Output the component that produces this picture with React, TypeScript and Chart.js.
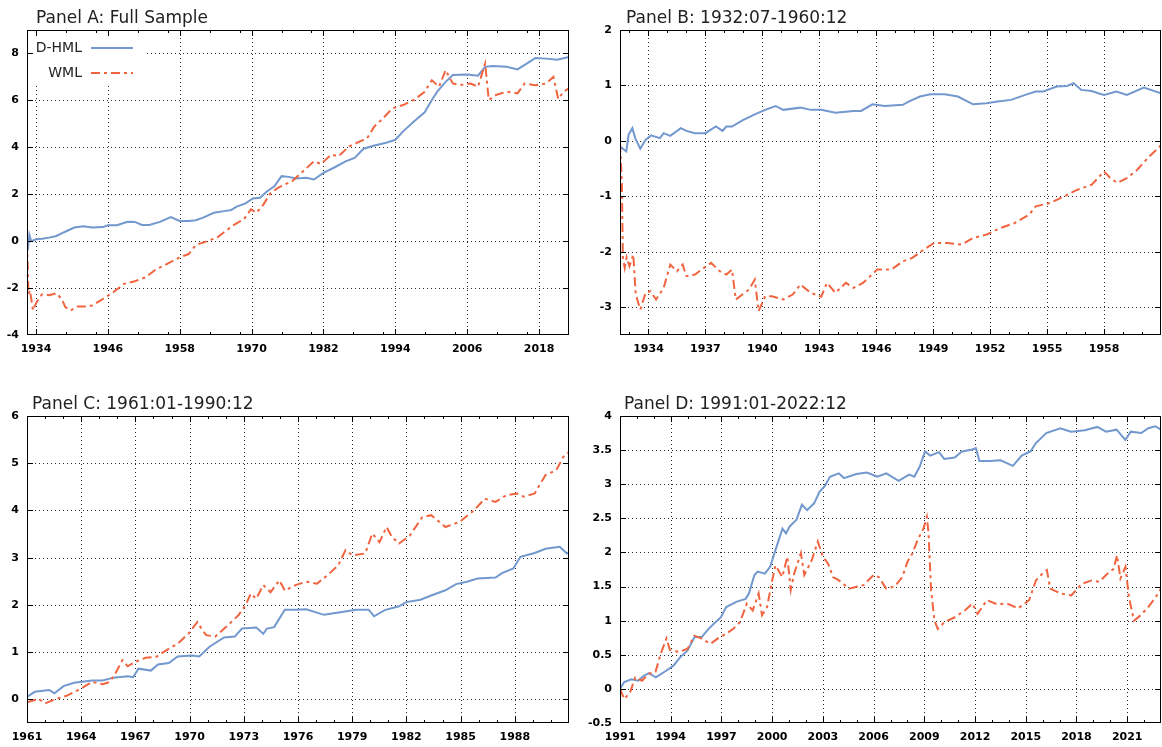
import React, { useEffect, useRef } from "react";
import { Chart, registerables } from "chart.js";

Chart.register(...registerables);

// ---------------- Panel A: Full Sample ----------------
const aHmlYears = [1932.5, 1932.7, 1932.9, 1933.2, 1934, 1935, 1936.2, 1937.4, 1938.6, 1940.4, 1941.9, 1943.4, 1945.2, 1946, 1947.5, 1949.3, 1950.5, 1951.7, 1952.9, 1954.7, 1956.5, 1958, 1959.5, 1960.7, 1961.9, 1963.7, 1965.4, 1966.6, 1967.5, 1969, 1970.2, 1971.4, 1972.6, 1973.8, 1975, 1976.2, 1977.4, 1979.2, 1980.4, 1982, 1983.9, 1985.7, 1987.2, 1988.7, 1990.5, 1992.3, 1994, 1995.3, 1997.1, 1998.9, 2000.1, 2001, 2002.4, 2003.6, 2006, 2007.8, 2009, 2010.2, 2012.6, 2014.4, 2016.2, 2017.4, 2019.2, 2021, 2023];
const aHmlValues = [0, -0.2, 0.27, 0.0, 0.08, 0.1, 0.15, 0.22, 0.37, 0.58, 0.64, 0.58, 0.6, 0.68, 0.68, 0.83, 0.82, 0.69, 0.69, 0.82, 1.03, 0.86, 0.86, 0.89, 1.0, 1.21, 1.28, 1.33, 1.47, 1.61, 1.82, 1.85, 2.13, 2.34, 2.77, 2.74, 2.67, 2.7, 2.63, 2.91, 3.15, 3.4, 3.55, 3.94, 4.08, 4.18, 4.32, 4.68, 5.1, 5.49, 6.02, 6.37, 6.79, 7.08, 7.1, 7.05, 7.43, 7.47, 7.43, 7.32, 7.61, 7.81, 7.78, 7.73, 7.85];
const aWmlYears = [1932.5, 1932.75, 1933.0, 1933.5, 1934.1, 1935, 1936.2, 1937.4, 1938.3, 1938.9, 1939.8, 1941, 1942.2, 1943.4, 1945.2, 1946.9, 1948.7, 1950.5, 1952.3, 1954.1, 1955.9, 1958, 1959.5, 1960.7, 1962.5, 1964.3, 1965.7, 1967.2, 1968.7, 1969.9, 1970.8, 1972, 1973.2, 1974.4, 1975.6, 1976.8, 1978.6, 1980.4, 1981.6, 1983.3, 1984.5, 1986.3, 1988.1, 1989.3, 1990.5, 1991.7, 1993.5, 1995.3, 1997.1, 1998.9, 2000.1, 2001.3, 2002.4, 2003.6, 2004.8, 2006.6, 2007.8, 2009, 2009.6, 2010.8, 2012.6, 2014.4, 2015.6, 2017.4, 2019.2, 2020.4, 2021.2, 2022.1, 2023];
const aWmlValues = [0, -2.25, -2.1, -2.95, -2.6, -2.27, -2.3, -2.22, -2.46, -2.81, -2.95, -2.78, -2.78, -2.74, -2.46, -2.18, -1.82, -1.71, -1.54, -1.19, -0.97, -0.69, -0.55, -0.16, -0.01, 0.16, 0.44, 0.72, 0.93, 1.36, 1.21, 1.57, 2.06, 2.27, 2.42, 2.56, 2.98, 3.4, 3.29, 3.69, 3.62, 4.04, 4.25, 4.39, 4.89, 5.17, 5.66, 5.8, 6.02, 6.37, 6.86, 6.58, 7.29, 6.72, 6.65, 6.72, 6.58, 7.57, 6.02, 6.23, 6.37, 6.3, 6.72, 6.65, 6.72, 7.0, 6.06, 6.37, 6.51];
const aXTicks = [1934, 1946, 1958, 1970, 1982, 1994, 2006, 2018];
const aXMinor = [1939, 1944, 1951, 1956, 1963, 1968, 1975, 1980, 1987, 1992, 1999, 2004, 2011, 2016];
const aYTicks = [-4, -2, 0, 2, 4, 6, 8];

// ---------------- Panel B: 1932:07-1960:12 ----------------
const bHmlYears = [1932.5, 1932.83, 1932.95, 1933.15, 1933.3, 1933.57, 1933.85, 1934.13, 1934.6, 1934.8, 1935.15, 1935.7, 1936, 1936.45, 1937, 1937.55, 1937.9, 1938.1, 1938.4, 1938.95, 1939.6, 1940.15, 1940.7, 1941.1, 1942, 1942.55, 1943.1, 1943.85, 1944.8, 1945.2, 1945.8, 1946.45, 1947.4, 1947.7, 1948.3, 1948.85, 1949.6, 1950.3, 1951.1, 1951.8, 1952.4, 1953.1, 1953.85, 1954.4, 1954.8, 1955.5, 1956.05, 1956.4, 1956.8, 1957.35, 1957.7, 1958, 1958.65, 1959.2, 1960.1, 1961];
const bHmlValues = [-0.1, -0.19, 0.11, 0.23, 0.05, -0.14, 0.02, 0.1, 0.05, 0.14, 0.09, 0.23, 0.18, 0.14, 0.14, 0.26, 0.18, 0.26, 0.26, 0.37, 0.48, 0.56, 0.63, 0.56, 0.6, 0.56, 0.56, 0.51, 0.54, 0.54, 0.66, 0.63, 0.65, 0.71, 0.8, 0.84, 0.84, 0.8, 0.66, 0.68, 0.71, 0.74, 0.83, 0.89, 0.89, 0.98, 0.99, 1.04, 0.92, 0.9, 0.86, 0.83, 0.89, 0.83, 0.96, 0.86];
const bWmlYears = [1932.5, 1932.6, 1932.65, 1932.75, 1932.85, 1933.0, 1933.2, 1933.33, 1933.57, 1933.85, 1934.1, 1934.4, 1934.8, 1935.15, 1935.5, 1935.8, 1936, 1936.45, 1936.8, 1937.3, 1937.75, 1938.1, 1938.4, 1938.6, 1938.95, 1939.3, 1939.6, 1939.8, 1940.15, 1940.5, 1941.1, 1941.6, 1942, 1942.55, 1943.1, 1943.4, 1943.85, 1944.4, 1944.8, 1945.3, 1946.05, 1946.8, 1947.4, 1947.9, 1948.5, 1949.05, 1949.75, 1950.5, 1951.1, 1951.8, 1952.55, 1953.3, 1954.05, 1954.4, 1955.15, 1955.9, 1956.6, 1957.35, 1958, 1958.3, 1958.7, 1959.2, 1959.75, 1960.3, 1961];
const bWmlValues = [-0.04, -0.79, -2.1, -2.29, -2.1, -2.26, -2.05, -2.77, -3.04, -2.74, -2.71, -2.86, -2.65, -2.23, -2.35, -2.23, -2.44, -2.41, -2.32, -2.2, -2.35, -2.41, -2.32, -2.86, -2.77, -2.68, -2.5, -3.07, -2.8, -2.8, -2.86, -2.77, -2.59, -2.74, -2.81, -2.56, -2.74, -2.56, -2.65, -2.56, -2.32, -2.32, -2.17, -2.11, -1.96, -1.84, -1.84, -1.87, -1.75, -1.69, -1.57, -1.48, -1.33, -1.18, -1.12, -1.0, -0.88, -0.79, -0.55, -0.66, -0.76, -0.67, -0.52, -0.31, -0.08];
const bXTicks = [1934, 1937, 1940, 1943, 1946, 1949, 1952, 1955, 1958];
const bYTicks = [-3, -2, -1, 0, 1, 2];

// ---------------- Panel C: 1961:01-1990:12 ----------------
const cHmlYears = [1961.0, 1961.43, 1962.23, 1962.52, 1963.02, 1963.61, 1964.6, 1965.19, 1965.78, 1966.57, 1966.87, 1967.17, 1967.86, 1968.25, 1968.85, 1969.34, 1970.13, 1970.53, 1971.12, 1971.91, 1972.5, 1972.9, 1973.69, 1974.08, 1974.28, 1974.68, 1975.27, 1975.86, 1976.45, 1977.44, 1978.43, 1979.22, 1979.91, 1980.21, 1980.8, 1981.59, 1981.99, 1982.78, 1983.37, 1984.16, 1984.75, 1985.35, 1985.94, 1986.93, 1987.32, 1987.92, 1988.31, 1989.1, 1989.7, 1990.49, 1990.88, 1991.0];
const cHmlValues = [0.05, 0.16, 0.2, 0.13, 0.28, 0.35, 0.4, 0.4, 0.46, 0.49, 0.47, 0.65, 0.61, 0.74, 0.77, 0.91, 0.93, 0.91, 1.12, 1.31, 1.33, 1.5, 1.52, 1.39, 1.5, 1.53, 1.9, 1.9, 1.91, 1.79, 1.85, 1.9, 1.9, 1.76, 1.89, 1.97, 2.06, 2.11, 2.2, 2.31, 2.44, 2.49, 2.56, 2.58, 2.68, 2.77, 3.02, 3.1, 3.19, 3.23, 3.09, 3.12];
const cWmlYears = [1961.0, 1961.63, 1962.03, 1962.62, 1963.21, 1964.0, 1964.6, 1965.19, 1965.58, 1965.88, 1966.28, 1966.57, 1966.96, 1967.56, 1968.15, 1968.75, 1969.34, 1969.93, 1970.43, 1970.72, 1970.92, 1971.42, 1972.01, 1972.7, 1973.09, 1973.39, 1973.69, 1974.08, 1974.48, 1974.97, 1975.27, 1975.86, 1976.45, 1977.05, 1977.64, 1978.23, 1978.63, 1979.02, 1979.72, 1980.11, 1980.51, 1980.9, 1981.2, 1981.59, 1982.19, 1982.88, 1983.37, 1984.16, 1984.95, 1985.74, 1986.34, 1986.93, 1987.52, 1988.11, 1988.51, 1989.1, 1989.7, 1990.29, 1990.68, 1991.0];
const cWmlValues = [-0.06, 0.01, -0.08, 0.01, 0.08, 0.23, 0.37, 0.32, 0.37, 0.54, 0.83, 0.7, 0.79, 0.88, 0.9, 1.05, 1.18, 1.39, 1.64, 1.46, 1.36, 1.33, 1.53, 1.78, 1.99, 2.24, 2.13, 2.42, 2.27, 2.52, 2.3, 2.42, 2.49, 2.45, 2.63, 2.84, 3.16, 3.05, 3.09, 3.51, 3.33, 3.65, 3.44, 3.3, 3.47, 3.86, 3.9, 3.65, 3.76, 4.0, 4.25, 4.18, 4.32, 4.36, 4.29, 4.36, 4.75, 4.85, 5.13, 5.24];
const cXTicks = [1961, 1964, 1967, 1970, 1973, 1976, 1979, 1982, 1985, 1988];
const cYTicks = [0, 1, 2, 3, 4, 5, 6];

// ---------------- Panel D: 1991:01-2022:12 ----------------
const dHmlYears = [1991.0, 1991.25, 1991.67, 1992.08, 1992.4, 1992.71, 1993.12, 1993.75, 1994.16, 1994.58, 1994.99, 1995.41, 1995.83, 1996.24, 1996.66, 1996.97, 1997.28, 1997.91, 1998.43, 1998.63, 1998.95, 1999.15, 1999.57, 1999.88, 2000.19, 2000.61, 2000.82, 2001.03, 2001.44, 2001.76, 2002.07, 2002.48, 2002.8, 2003.11, 2003.42, 2003.94, 2004.25, 2004.98, 2005.6, 2006.23, 2006.75, 2007.48, 2008.1, 2008.41, 2008.73, 2009.04, 2009.35, 2009.87, 2010.18, 2010.8, 2011.22, 2011.84, 2012.05, 2012.26, 2012.88, 2013.51, 2014.24, 2014.76, 2015.28, 2015.59, 2016.21, 2017.05, 2017.67, 2018.5, 2019.23, 2019.75, 2020.37, 2020.89, 2021.21, 2021.83, 2022.25, 2022.66, 2023.0];
const dHmlValues = [0, 0.1, 0.14, 0.12, 0.19, 0.23, 0.17, 0.27, 0.34, 0.47, 0.56, 0.76, 0.76, 0.88, 0.98, 1.05, 1.2, 1.28, 1.32, 1.4, 1.67, 1.72, 1.69, 1.79, 2.03, 2.35, 2.28, 2.38, 2.48, 2.7, 2.62, 2.72, 2.89, 2.97, 3.11, 3.16, 3.09, 3.15, 3.17, 3.11, 3.16, 3.05, 3.14, 3.11, 3.26, 3.48, 3.42, 3.47, 3.37, 3.39, 3.48, 3.51, 3.53, 3.34, 3.34, 3.35, 3.27, 3.42, 3.48, 3.6, 3.75, 3.82, 3.77, 3.79, 3.84, 3.77, 3.8, 3.65, 3.77, 3.75, 3.82, 3.85, 3.8];
const dWmlYears = [1991.0, 1991.25, 1991.6, 1991.9, 1992.3, 1992.7, 1993.1, 1993.4, 1993.75, 1993.95, 1994.5, 1995.0, 1995.4, 1995.8, 1996.35, 1996.9, 1997.3, 1997.7, 1998.1, 1998.5, 1998.85, 1999.2, 1999.4, 1999.7, 2000.0, 2000.2, 2000.6, 2000.9, 2001.1, 2001.3, 2001.7, 2001.9, 2002.35, 2002.7, 2003.0, 2003.3, 2003.6, 2003.95, 2004.55, 2005.4, 2006.0, 2006.3, 2006.75, 2007.25, 2007.7, 2008.0, 2008.3, 2008.6, 2008.95, 2009.15, 2009.25, 2009.4, 2009.6, 2009.8, 2010.2, 2010.8, 2011.4, 2011.85, 2012.15, 2012.7, 2013.3, 2013.9, 2014.55, 2015.2, 2015.6, 2015.9, 2016.25, 2016.45, 2017.05, 2017.7, 2018.3, 2018.9, 2019.35, 2019.75, 2020.2, 2020.4, 2020.6, 2020.9, 2021.1, 2021.4, 2021.8, 2022.25, 2022.7, 2023.0];
const dWmlValues = [0, -0.15, -0.05, 0.17, 0.12, 0.22, 0.25, 0.51, 0.74, 0.57, 0.54, 0.59, 0.78, 0.74, 0.66, 0.76, 0.81, 0.88, 0.98, 1.25, 1.15, 1.4, 1.08, 1.2, 1.59, 1.81, 1.64, 1.94, 1.45, 1.69, 1.99, 1.67, 1.89, 2.16, 1.94, 1.84, 1.64, 1.59, 1.47, 1.52, 1.67, 1.64, 1.47, 1.5, 1.64, 1.86, 1.99, 2.18, 2.35, 2.52, 2.28, 1.45, 1.0, 0.88, 0.98, 1.05, 1.15, 1.25, 1.1, 1.3, 1.24, 1.25, 1.18, 1.3, 1.59, 1.67, 1.74, 1.47, 1.4, 1.37, 1.54, 1.59, 1.57, 1.67, 1.76, 1.96, 1.62, 1.79, 1.35, 1.0, 1.08, 1.2, 1.35, 1.47];
const dXTicks = [1991, 1994, 1997, 2000, 2003, 2006, 2009, 2012, 2015, 2018, 2021];
const dYTicks = [-0.5, 0, 0.5, 1, 1.5, 2, 2.5, 3, 3.5, 4];

const SERIES_NAMES = ["D-HML", "WML"];

// ---------------- styling ----------------
const BLUE = "#7298CE";
const RED = "#F0643F";
const FONT = "'DejaVu Sans', 'Liberation Sans', sans-serif";
const WML_DASH = [9, 4, 3, 4];

function yearlyMinors(min: number, max: number, majors: number[]) {
  const out: number[] = [];
  for (let v = Math.ceil(min); v <= Math.floor(max); v++) {
    if (!majors.includes(v)) out.push(v);
  }
  return out;
}

type Panel = {
  title: string;
  canvas: { x: number; y: number; w: number; h: number };
  box: { l: number; t: number; r: number; b: number };
  titlePos: { x: number; y: number };
  xMin: number; xMax: number; yMin: number; yMax: number;
  xTicks: number[]; xMinor: number[]; yTicks: number[];
  hmlX: number[]; hmlY: number[]; wmlX: number[]; wmlY: number[];
  legend: boolean;
};

const PANELS: Panel[] = [
  {
    title: "Panel A: Full Sample",
    canvas: { x: 0, y: 0, w: 580, h: 375 },
    box: { l: 27, t: 30, r: 569, b: 335 },
    titlePos: { x: 36, y: 23 },
    xMin: 1932.5, xMax: 2023, yMin: -4, yMax: 9,
    xTicks: aXTicks, xMinor: aXMinor, yTicks: aYTicks,
    hmlX: aHmlYears, hmlY: aHmlValues, wmlX: aWmlYears, wmlY: aWmlValues,
    legend: true,
  },
  {
    title: "Panel B: 1932:07-1960:12",
    canvas: { x: 580, y: 0, w: 582, h: 375 },
    box: { l: 620, t: 30, r: 1161, b: 335 },
    titlePos: { x: 626, y: 23 },
    xMin: 1932.5, xMax: 1961, yMin: -3.5, yMax: 2,
    xTicks: bXTicks, xMinor: yearlyMinors(1932.5, 1961, bXTicks), yTicks: bYTicks,
    hmlX: bHmlYears, hmlY: bHmlValues, wmlX: bWmlYears, wmlY: bWmlValues,
    legend: false,
  },
  {
    title: "Panel C: 1961:01-1990:12",
    canvas: { x: 0, y: 375, w: 580, h: 372 },
    box: { l: 27, t: 416, r: 569, b: 723 },
    titlePos: { x: 32, y: 409 },
    xMin: 1961, xMax: 1991, yMin: -0.5, yMax: 6,
    xTicks: cXTicks, xMinor: yearlyMinors(1961, 1991, cXTicks), yTicks: cYTicks,
    hmlX: cHmlYears, hmlY: cHmlValues, wmlX: cWmlYears, wmlY: cWmlValues,
    legend: false,
  },
  {
    title: "Panel D: 1991:01-2022:12",
    canvas: { x: 580, y: 375, w: 582, h: 372 },
    box: { l: 620, t: 416, r: 1161, b: 723 },
    titlePos: { x: 624, y: 409 },
    xMin: 1991, xMax: 2023, yMin: -0.5, yMax: 4,
    xTicks: dXTicks, xMinor: yearlyMinors(1991, 2023, dXTicks), yTicks: dYTicks,
    hmlX: dHmlYears, hmlY: dHmlValues, wmlX: dWmlYears, wmlY: dWmlValues,
    legend: false,
  },
];

function makeChart(canvas: HTMLCanvasElement, p: Panel) {
  const ox = p.canvas.x;
  const oy = p.canvas.y;
  const pts = (xs: number[], ys: number[]) => xs.map((x, i) => ({ x, y: ys[i] }));
  const yAxisW = p.box.l - ox;
  const xAxisH = oy + p.canvas.h - p.box.b;

  const frame = {
    id: "gnuframe",
    beforeDatasetsDraw(chart: any) {
      const { ctx, chartArea } = chart;
      const { left, right, top, bottom } = chartArea;
      const xs = chart.scales.x;
      const ys = chart.scales.y;
      ctx.save();
      ctx.strokeStyle = "rgba(0,0,0,0.85)";
      ctx.lineWidth = 1;
      ctx.setLineDash([1, 3]);
      p.xTicks.forEach((v) => {
        const px = Math.round(xs.getPixelForValue(v)) + 0.5;
        if (px <= left + 1.5 || px >= right - 1.5) return;
        ctx.beginPath();
        ctx.moveTo(px, top);
        ctx.lineTo(px, bottom);
        ctx.stroke();
      });
      p.yTicks.forEach((v) => {
        const py = Math.round(ys.getPixelForValue(v)) + 0.5;
        if (py <= top + 1.5 || py >= bottom - 1.5) return;
        ctx.beginPath();
        ctx.moveTo(left, py);
        ctx.lineTo(right, py);
        ctx.stroke();
      });
      ctx.restore();
    },
    afterDatasetsDraw(chart: any) {
      const { ctx, chartArea } = chart;
      const { left, right, top, bottom } = chartArea;
      const xs = chart.scales.x;
      const ys = chart.scales.y;
      ctx.save();
      if (p.legend) {
        // opaque key box, gnuplot style
        ctx.fillStyle = "#fff";
        ctx.fillRect(left + 1, top + 1, 143 - ox - left, 85 - oy - top);
        ctx.fillStyle = "#222";
        ctx.font = `14px ${FONT}`;
        ctx.textAlign = "right";
        ctx.textBaseline = "middle";
        const rows = [
          { name: SERIES_NAMES[0], y: 48 - oy, color: BLUE, dash: [] as number[] },
          { name: SERIES_NAMES[1], y: 73 - oy, color: RED, dash: WML_DASH },
        ];
        rows.forEach((r) => {
          ctx.fillText(r.name, 82 - ox, r.y);
          ctx.beginPath();
          ctx.setLineDash(r.dash);
          ctx.strokeStyle = r.color;
          ctx.lineWidth = 2;
          ctx.moveTo(91 - ox, r.y);
          ctx.lineTo(133 - ox, r.y);
          ctx.stroke();
        });
        ctx.setLineDash([]);
      }
      // border
      ctx.strokeStyle = "#000";
      ctx.lineWidth = 1;
      ctx.setLineDash([]);
      ctx.strokeRect(left + 0.5, top + 0.5, right - left - 1, bottom - top - 1);
      // inward tick marks
      const MAJ = 6;
      const MIN = 3;
      ctx.beginPath();
      const xTick = (v: number, len: number) => {
        const px = Math.round(xs.getPixelForValue(v)) + 0.5;
        if (px < left || px > right) return;
        ctx.moveTo(px, bottom);
        ctx.lineTo(px, bottom - len);
        ctx.moveTo(px, top);
        ctx.lineTo(px, top + len);
      };
      p.xTicks.forEach((v) => xTick(v, MAJ));
      p.xMinor.forEach((v) => xTick(v, MIN));
      p.yTicks.forEach((v) => {
        const py = Math.round(ys.getPixelForValue(v)) + 0.5;
        if (py < top || py > bottom) return;
        ctx.moveTo(left, py);
        ctx.lineTo(left + MAJ, py);
        ctx.moveTo(right, py);
        ctx.lineTo(right - MAJ, py);
      });
      ctx.stroke();
      ctx.restore();
    },
    afterDraw(chart: any) {
      const { ctx } = chart;
      ctx.save();
      ctx.fillStyle = "#222";
      ctx.font = `17px ${FONT}`;
      ctx.textAlign = "left";
      ctx.textBaseline = "alphabetic";
      ctx.fillText(p.title, p.titlePos.x - ox, p.titlePos.y - oy);
      ctx.restore();
    },
  };

  const tickFont = { family: FONT, size: 11, weight: "bold" as const };

  return new Chart(canvas, {
    type: "line",
    data: {
      datasets: [
        {
          label: SERIES_NAMES[1],
          data: pts(p.wmlX, p.wmlY),
          borderColor: RED,
          backgroundColor: RED,
          borderWidth: 2,
          borderDash: WML_DASH,
          pointRadius: 0,
          tension: 0,
          fill: false,
        },
        {
          label: SERIES_NAMES[0],
          data: pts(p.hmlX, p.hmlY),
          borderColor: BLUE,
          backgroundColor: BLUE,
          borderWidth: 2,
          pointRadius: 0,
          tension: 0,
          fill: false,
        },
      ],
    },
    options: {
      responsive: false,
      maintainAspectRatio: false,
      animation: false,
      devicePixelRatio: 1,
      events: [],
      layout: {
        padding: {
          left: 0,
          top: p.box.t - oy,
          right: ox + p.canvas.w - p.box.r,
          bottom: 0,
        },
      },
      plugins: {
        legend: { display: false },
        tooltip: { enabled: false },
        title: { display: false },
      },
      scales: {
        x: {
          type: "linear",
          min: p.xMin,
          max: p.xMax,
          afterFit: (s: any) => {
            s.height = xAxisH;
          },
          afterBuildTicks: (s: any) => {
            s.ticks = p.xTicks.map((v) => ({ value: v }));
          },
          grid: { display: false, drawTicks: false },
          border: { display: false },
          ticks: {
            autoSkip: false,
            maxRotation: 0,
            minRotation: 0,
            padding: 8,
            color: "#000",
            font: tickFont,
            callback: (v: any) => String(v),
          },
        },
        y: {
          type: "linear",
          min: p.yMin,
          max: p.yMax,
          afterFit: (s: any) => {
            s.width = yAxisW;
          },
          afterBuildTicks: (s: any) => {
            s.ticks = p.yTicks.map((v) => ({ value: v }));
          },
          grid: { display: false, drawTicks: false },
          border: { display: false },
          ticks: {
            autoSkip: false,
            padding: 8,
            color: "#000",
            font: tickFont,
            callback: (v: any) => String(v),
          },
        },
      },
    },
    plugins: [frame],
  } as any);
}

export default function App() {
  const canvases = useRef<(HTMLCanvasElement | null)[]>([]);

  useEffect(() => {
    const charts = PANELS.map((p, i) => makeChart(canvases.current[i] as HTMLCanvasElement, p));
    return () => {
      charts.forEach((c) => c.destroy());
    };
  }, []);

  return (
    <div
      style={{
        position: "absolute",
        left: 0,
        top: 0,
        width: 1162,
        height: 747,
        background: "#fff",
        overflow: "hidden",
      }}
    >
      {PANELS.map((p, i) => (
        <canvas
          key={i}
          ref={(el) => {
            canvases.current[i] = el;
          }}
          width={p.canvas.w}
          height={p.canvas.h}
          style={{
            position: "absolute",
            left: p.canvas.x,
            top: p.canvas.y,
            width: p.canvas.w,
            height: p.canvas.h,
          }}
        />
      ))}
    </div>
  );
}
